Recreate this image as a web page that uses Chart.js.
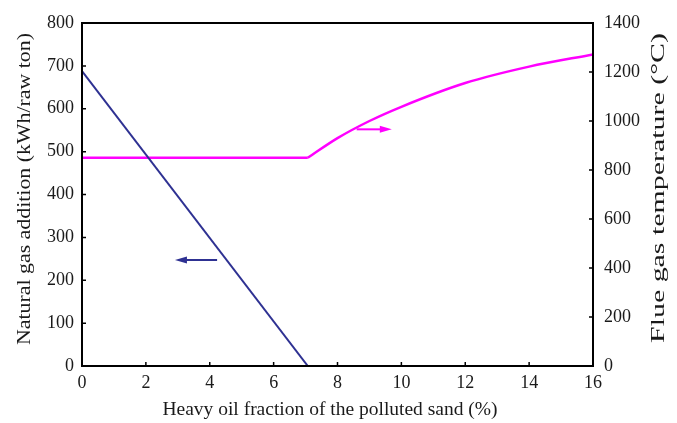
<!DOCTYPE html>
<html><head><meta charset="utf-8">
<script src="https://cdn.jsdelivr.net/npm/chart.js@4/dist/chart.umd.min.js"></script>
<style>html,body{margin:0;padding:0;background:#fff}#wrap{width:677px;height:423px}</style>
</head><body><div id="wrap"><canvas id="c" width="677" height="423"></canvas></div>
<script>
const gasX = [0, 7.07];
const gasY = [688, 0];
const tempX = [0, 7.07, 8, 9, 10, 12, 14, 16];
const tempY = [850, 850, 930, 1000, 1058, 1155, 1222, 1272];
const arrowGasX = [4.23, 2.91];
const arrowGasY = [247, 247];
const arrowTempX = [8.6, 9.7];
const arrowTempY = [966, 966];
const xTicks = [0, 2, 4, 6, 8, 10, 12, 14, 16];
const yLeftTicks = [0, 100, 200, 300, 400, 500, 600, 700, 800];
const yRightTicks = [0, 200, 400, 600, 800, 1000, 1200, 1400];
const xTitle = 'Heavy oil fraction of the polluted sand (%)';
const yLeftTitle = 'Natural gas addition (kWh/raw ton)';
const yRightTitle = 'Flue gas temperature (°C)';

const BLUE = '#2e3192', MAG = '#ff00ff', TXT = '#1a1a1a';
const FONT = 'Liberation Serif';

const framePlugin = {
  id: 'frame',
  afterDatasetsDraw(chart) {
    const {ctx, chartArea: a, scales} = chart;
    ctx.save();
    ctx.strokeStyle = '#000';
    ctx.lineWidth = 2;
    ctx.strokeRect(a.left, a.top, a.right - a.left, a.bottom - a.top);
    ctx.lineWidth = 1.5;
    const L = 4;
    ctx.beginPath();
    xTicks.forEach(v => { const p = scales.x.getPixelForValue(v); ctx.moveTo(p, a.bottom); ctx.lineTo(p, a.bottom - L); });
    yLeftTicks.forEach(v => { const p = scales.y.getPixelForValue(v); ctx.moveTo(a.left, p); ctx.lineTo(a.left + L, p); });
    yRightTicks.forEach(v => { const p = scales.y2.getPixelForValue(v); ctx.moveTo(a.right, p); ctx.lineTo(a.right - L, p); });
    ctx.stroke();
    function arrow(xs, ys, sc, color) {
      const x0 = scales.x.getPixelForValue(xs[0]), x1 = scales.x.getPixelForValue(xs[1]);
      const y0 = scales[sc].getPixelForValue(ys[0]), y1 = scales[sc].getPixelForValue(ys[1]);
      const dir = Math.sign(x1 - x0);
      ctx.strokeStyle = color; ctx.fillStyle = color; ctx.lineWidth = 2;
      ctx.beginPath(); ctx.moveTo(x0, y0); ctx.lineTo(x1 - dir * 10, y1); ctx.stroke();
      ctx.beginPath(); ctx.moveTo(x1, y1); ctx.lineTo(x1 - dir * 12, y1 - 3.5); ctx.lineTo(x1 - dir * 12, y1 + 3.5); ctx.closePath(); ctx.fill();
    }
    arrow(arrowGasX, arrowGasY, 'y', BLUE);
    arrow(arrowTempX, arrowTempY, 'y2', MAG);
    function vtitle(text, cx, top, bottom) {
      ctx.save();
      ctx.font = '19px "' + FONT + '"';
      ctx.fillStyle = TXT;
      ctx.textAlign = 'center';
      ctx.textBaseline = 'middle';
      const w = ctx.measureText(text).width;
      ctx.translate(cx, (top + bottom) / 2);
      ctx.rotate(-Math.PI / 2);
      ctx.scale((bottom - top) / w, 1);
      ctx.fillText(text, 0, 0);
      ctx.restore();
    }
    vtitle(yLeftTitle, 25, 33, 345);
    vtitle(yRightTitle, 659, 33, 343);
    ctx.save();
    ctx.font = '19.5px "' + FONT + '"';
    ctx.fillStyle = TXT;
    ctx.textAlign = 'center';
    ctx.textBaseline = 'middle';
    ctx.fillText(xTitle, 330, 410);
    ctx.restore();
    ctx.restore();
  }
};

new Chart(document.getElementById('c'), {
  type: 'line',
  data: {
    datasets: [
      { data: gasX.map((x, i) => ({x, y: gasY[i]})), borderColor: BLUE, borderWidth: 2, pointRadius: 0, yAxisID: 'y', tension: 0 },
      { data: tempX.slice(0, 2).map((x, i) => ({x, y: tempY[i]})), borderColor: MAG, borderWidth: 2.5, pointRadius: 0, yAxisID: 'y2', tension: 0 },
      { data: tempX.slice(1).map((x, i) => ({x, y: tempY[i + 1]})), borderColor: MAG, borderWidth: 2.5, pointRadius: 0, yAxisID: 'y2', cubicInterpolationMode: 'monotone' }
    ]
  },
  options: {
    responsive: false,
    animation: false,
    layout: { padding: { top: 23, left: 0, right: 0, bottom: 0 } },
    plugins: { legend: { display: false }, tooltip: { enabled: false } },
    scales: {
      x: {
        type: 'linear', min: 0, max: 16,
        afterBuildTicks: s => { s.ticks = xTicks.map(v => ({value: v})); },
        afterFit: s => { s.height = 57; },
        grid: { display: false, drawTicks: false }, border: { display: false },
        ticks: { color: TXT, font: { family: FONT, size: 18 }, padding: 6, maxRotation: 0, callback: v => String(v) }
      },
      y: {
        position: 'left', min: 0, max: 800,
        afterBuildTicks: s => { s.ticks = yLeftTicks.map(v => ({value: v})); },
        afterFit: s => { s.width = 82; },
        grid: { display: false, drawTicks: false }, border: { display: false },
        ticks: { color: TXT, font: { family: FONT, size: 18 }, padding: 8, callback: v => String(v) }
      },
      y2: {
        position: 'right', min: 0, max: 1400,
        afterBuildTicks: s => { s.ticks = yRightTicks.map(v => ({value: v})); },
        afterFit: s => { s.width = 84; },
        grid: { display: false, drawTicks: false }, border: { display: false },
        ticks: { color: TXT, font: { family: FONT, size: 18 }, padding: 11, callback: v => String(v) }
      }
    }
  },
  plugins: [framePlugin]
});
</script></body></html>
